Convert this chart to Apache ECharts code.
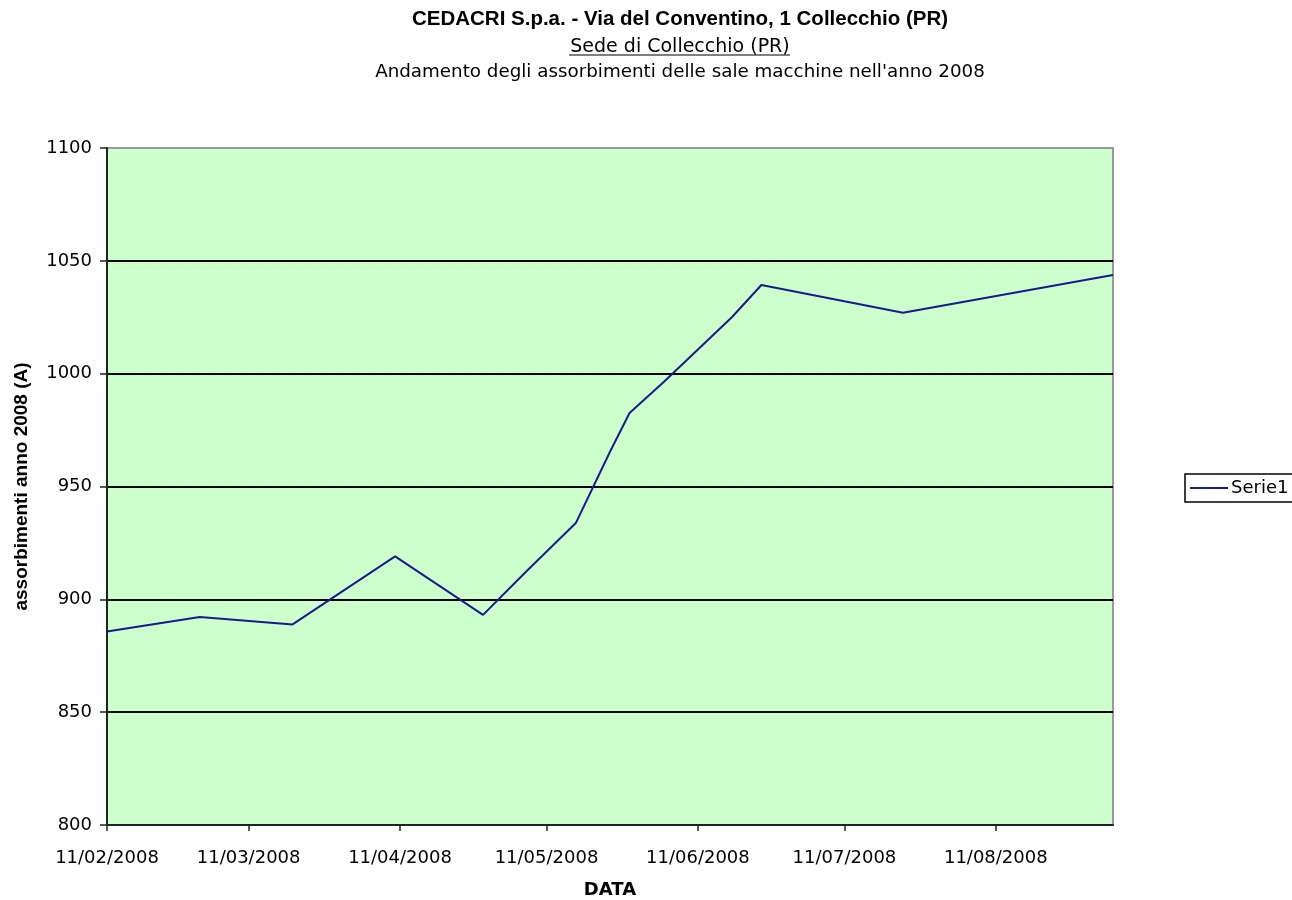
<!DOCTYPE html>
<html>
<head>
<meta charset="utf-8">
<script src="https://cdn.jsdelivr.net/npm/echarts@6/dist/echarts.min.js"></script>
<style>
html,body{margin:0;padding:0;background:#fff;overflow:hidden;}
#chart{width:1292px;height:900px;}
</style>
</head>
<body>
<div id="chart"></div>
<script>
// Data
var dates = ['2008-02-11','2008-03-01','2008-03-20','2008-04-10','2008-04-28','2008-05-07','2008-05-17','2008-05-24','2008-05-28','2008-06-04','2008-06-18','2008-06-24','2008-07-23','2008-09-04'];
var values = [885.7, 892.2, 888.9, 919.0, 893.1, 912.7, 933.8, 965.4, 982.6, 996.3, 1025.1, 1039.3, 1027.0, 1043.7];
var tickDates = ['2008-02-11','2008-03-11','2008-04-11','2008-05-11','2008-06-11','2008-07-11','2008-08-11'];
var yTicks = [800, 850, 900, 950, 1000, 1050, 1100];
var seriesName = 'Serie1';
var titleText = 'CEDACRI S.p.a. - Via del Conventino, 1 Collecchio (PR)';
var subText = 'Sede di Collecchio (PR)';
var subText2 = "Andamento degli assorbimenti delle sale macchine nell'anno 2008";

function ts(s){ var p = s.split('-'); return Date.UTC(+p[0], +p[1]-1, +p[2]); }
function pad(n){ return (n < 10 ? '0' : '') + n; }
function fmt(v){ var d = new Date(v); return pad(d.getUTCDate()) + '/' + pad(d.getUTCMonth()+1) + '/' + d.getUTCFullYear(); }

var points = dates.map(function(d, i){ return [ts(d), values[i]]; });
var tickTs = tickDates.map(ts);

var chart = echarts.init(document.getElementById('chart'));
var font = '"Liberation Sans", Arial, sans-serif';
var dfont = '"DejaVu Sans", sans-serif';
chart.setOption({
  animation: false,
  backgroundColor: '#ffffff',
  title: [
    {text: titleText, left: 675, top: 4, textAlign: 'center',
     textStyle: {fontFamily: font, fontSize: 20.5, fontWeight: 'bold', color: '#000'}},
    {text: subText, left: 675, top: 33, textAlign: 'center',
     textStyle: {fontFamily: dfont, fontSize: 19, fontWeight: 'normal', color: '#000'}},
    {text: subText2, left: 675, top: 58, textAlign: 'center',
     textStyle: {fontFamily: dfont, fontSize: 18.3, fontWeight: 'normal', color: '#000'}}
  ],
  graphic: [
    {type: 'line', shape: {x1: 569, y1: 55, x2: 790, y2: 55}, style: {stroke: '#000', lineWidth: 1.2}}
  ],
  legend: {
    left: 1185, top: 474, orient: 'vertical',
    data: [{name: seriesName, icon: 'path://M0,0L40,0L40,2L0,2Z'}],
    itemWidth: 38, itemHeight: 2, itemGap: 0,
    borderColor: '#000', borderWidth: 1.5, padding: [5, 8, 5, 5],
    textStyle: {fontFamily: dfont, fontSize: 18, color: '#000', padding: [0,0,0,-2]}
  },
  grid: {left: 107, top: 148, width: 1006, height: 677, show: true, outerBoundsMode: 'none',
         backgroundColor: '#CCFFCC', borderColor: '#999', borderWidth: 2, containLabel: false},
  xAxis: {
    type: 'value',
    min: ts(dates[0]), max: ts(dates[dates.length-1]),
    name: 'DATA', nameLocation: 'middle', nameGap: 56,
    nameTextStyle: {fontFamily: dfont, fontSize: 18, fontWeight: 'bold', color: '#000'},
    axisLine: {show: true, lineStyle: {color: '#222', width: 2}},
    axisTick: {show: true, length: 6, inside: false, customValues: tickTs, lineStyle: {color: '#222', width: 1.5}},
    axisLabel: {customValues: tickTs, formatter: function(v){ return fmt(v); }, margin: 24,
                fontFamily: dfont, fontSize: 18, color: '#000', hideOverlap: false},
    splitLine: {show: false}
  },
  yAxis: {
    type: 'value', min: yTicks[0], max: yTicks[yTicks.length-1], interval: 50,
    name: 'assorbimenti anno 2008 (A)', nameLocation: 'middle', nameGap: 76, nameRotate: 90,
    nameTextStyle: {fontFamily: font, fontSize: 19, fontWeight: 'bold', color: '#000'},
    axisLine: {show: true, lineStyle: {color: '#222', width: 2}},
    axisTick: {show: true, length: 7, inside: false, lineStyle: {color: '#222', width: 1.5}},
    axisLabel: {margin: 15, fontFamily: dfont, fontSize: 18, color: '#000',
                formatter: function(v){ return String(v); }},
    splitLine: {show: true, lineStyle: {color: ['#000','#000','#000','#000','#000','#000','#999'], width: 1.8}}
  },
  series: [{
    name: seriesName, type: 'line', data: points, showSymbol: false, symbol: 'none',
    lineStyle: {color: '#1a1a8c', width: 2}, itemStyle: {color: '#1a1a8c'}
  }]
});
</script>
</body>
</html>
